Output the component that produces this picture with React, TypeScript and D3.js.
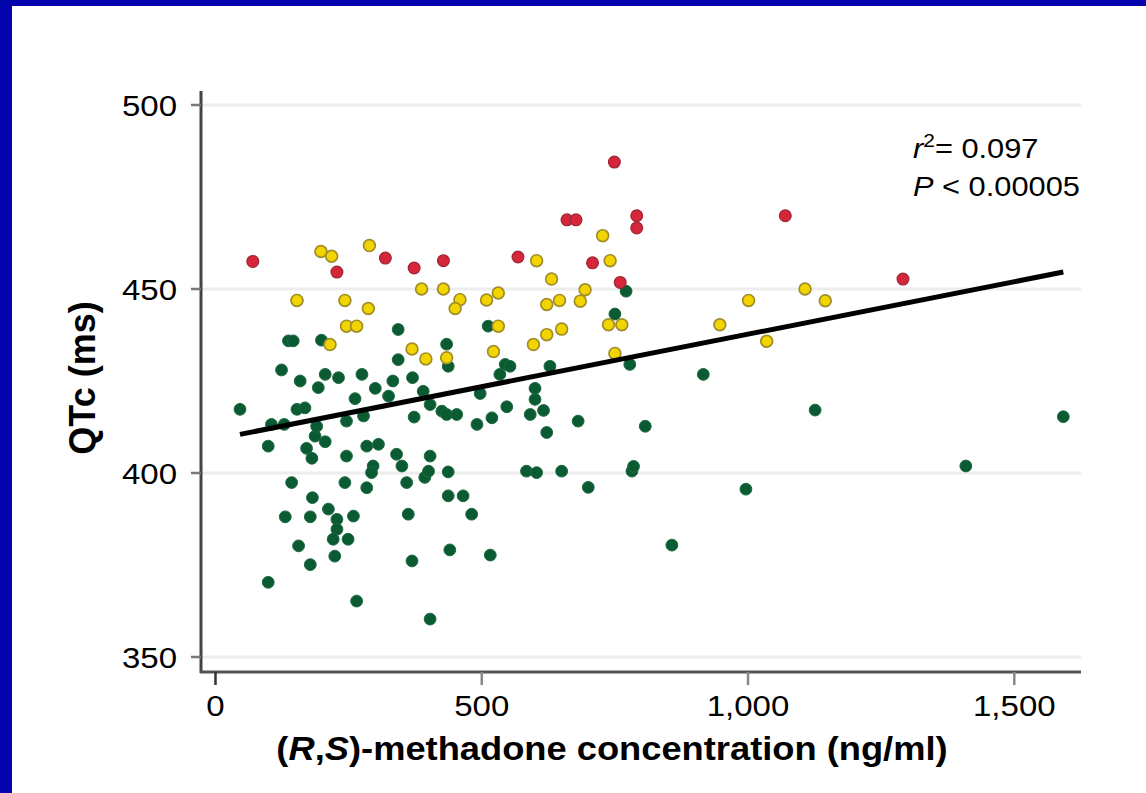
import React from "react";
import * as d3 from "d3";

// ---- data (ng/ml, ms) ----
const greenX = [46, 99, 99, 105, 129, 124, 131, 137, 146, 143, 153, 156, 159, 153, 168, 171, 181, 178, 178, 182, 187, 190, 193, 199, 206, 206, 212, 228, 228, 221, 249, 259, 224, 231, 246, 246, 243, 262, 265, 275, 278, 284, 284, 296, 293, 300, 306, 325, 333, 340, 350, 343, 343, 359, 362, 369, 370, 373, 390, 393, 400, 403, 403, 403, 425, 434, 453, 434, 437, 437, 437, 465, 440, 481, 491, 497, 512, 516, 519, 534, 544, 553, 547, 584, 603, 591, 616, 600, 600, 622, 628, 650, 681, 750, 771, 778, 807, 916, 1126, 1592, 1409, 700, 782, 785, 857, 996];
const greenY = [417.3, 407.3, 370.3, 413.2, 413.2, 428.0, 388.1, 435.9, 435.9, 397.4, 446.9, 380.2, 425.0, 417.3, 417.7, 406.7, 404.0, 388.1, 375.1, 393.3, 410.0, 412.7, 423.2, 436.1, 426.8, 408.5, 390.2, 387.4, 384.7, 382.0, 382.0, 388.3, 377.4, 425.9, 414.1, 404.6, 397.4, 420.2, 365.2, 426.8, 415.5, 407.3, 396.0, 401.9, 400.1, 423.0, 407.8, 420.9, 425.0, 405.1, 401.9, 439.0, 430.8, 397.4, 388.8, 376.1, 425.9, 415.2, 422.2, 398.8, 400.5, 404.6, 418.6, 360.3, 416.8, 415.9, 415.9, 435.0, 429.0, 400.3, 393.8, 393.8, 379.1, 388.8, 413.2, 421.6, 439.9, 377.7, 415.0, 426.8, 429.5, 429.0, 418.0, 400.5, 400.1, 415.9, 417.0, 423.0, 420.0, 411.0, 429.0, 400.5, 414.1, 443.2, 449.4, 429.5, 412.7, 426.8, 417.1, 415.3, 401.9, 396.1, 400.5, 401.8, 380.4, 395.6];

const yellowX = [198, 218, 289, 153, 243, 287, 387, 428, 459, 450, 509, 531, 246, 265, 215, 369, 395, 434, 522, 531, 597, 622, 650, 622, 646, 631, 603, 727, 741, 694, 685, 738, 763, 750, 947, 1001, 1035, 1107, 1145];
const yellowY = [460.2, 458.9, 461.8, 446.9, 446.9, 444.7, 450.0, 450.0, 447.1, 444.7, 447.0, 448.9, 439.9, 439.9, 434.9, 433.7, 431.0, 431.3, 433.0, 439.9, 434.9, 437.6, 439.1, 445.8, 446.9, 452.7, 457.7, 464.5, 457.7, 449.8, 446.7, 440.3, 440.3, 432.5, 440.3, 446.9, 435.8, 450.0, 446.8];

const redX = [70, 228, 319, 373, 428, 568, 708, 749, 660, 677, 791, 791, 760, 1070, 1291];
const redY = [457.5, 454.6, 458.4, 455.7, 457.7, 458.7, 457.1, 484.5, 468.8, 468.8, 469.9, 466.6, 451.8, 469.9, 452.7];

const fitX = [46, 1592];
const fitY = [410.5, 454.6];

const xTicks = [0, 500, 1000, 1500];
const yTicks = [350, 400, 450, 500];

const FONT = "'Liberation Sans', Arial, Helvetica, sans-serif";
const SX = 1.1; // horizontal stretch of the reference lettering

export default function App() {
  const x = d3.scaleLinear().domain([0, 1500]).range([215.5, 1014.3]);
  const y = d3.scaleLinear().domain([350, 500]).range([657, 105]);
  const fmt = d3.format(",");
  const line = d3
    .line<number>()
    .x((_, i) => x(fitX[i]))
    .y((d) => y(d));

  const greens = greenX.map((v, i) => ({ x: v, y: greenY[i] }));
  const yellows = yellowX.map((v, i) => ({ x: v, y: yellowY[i] }));
  const reds = redX.map((v, i) => ({ x: v, y: redY[i] }));

  const axisLeft = 201;
  const axisBottom = 672;
  const plotRight = 1081;

  return (
    <svg
      width={1146}
      height={793}
      style={{ position: "absolute", left: 0, top: 0, background: "#fff" }}
      fontFamily={FONT}
    >
      <rect x={0} y={0} width={1146} height={793} fill="#fff" />
      <rect x={0} y={0} width={1146} height={6} fill="#0404ac" />
      <rect x={0} y={0} width={12} height={793} fill="#0404ac" />

      {/* gridlines */}
      {yTicks.map((t) => (
        <line key={"g" + t} x1={axisLeft} x2={plotRight} y1={y(t)} y2={y(t)} stroke="#ededed" strokeWidth={3} />
      ))}

      {/* axes */}
      <line x1={axisLeft} x2={axisLeft} y1={91} y2={axisBottom + 1} stroke="#444" strokeWidth={3} />
      <line x1={axisLeft - 1} x2={plotRight} y1={axisBottom} y2={axisBottom} stroke="#555" strokeWidth={3} />
      {yTicks.map((t) => (
        <g key={"yt" + t}>
          <line x1={axisLeft - 10} x2={axisLeft} y1={y(t)} y2={y(t)} stroke="#777" strokeWidth={2.5} />
          <text
            transform={`translate(177, ${y(t)}) scale(${SX}, 1)`}
            dy="0.36em"
            textAnchor="end"
            fontSize={30}
            fill="#000"
          >
            {t}
          </text>
        </g>
      ))}
      {xTicks.map((t) => (
        <g key={"xt" + t}>
          <line x1={x(t)} x2={x(t)} y1={axisBottom} y2={axisBottom + 13} stroke={t === 0 ? "#333" : "#888"} strokeWidth={2.5} />
          <text
            transform={`translate(${x(t)}, 716) scale(${SX}, 1)`}
            textAnchor="middle"
            fontSize={30}
            fill="#000"
          >
            {fmt(t)}
          </text>
        </g>
      ))}

      {/* points */}
      {greens.map((d, i) => (
        <circle key={"gr" + i} cx={x(d.x)} cy={y(d.y)} r={5.9} fill="#0a5a32" stroke="#1e6a44" strokeWidth={1} />
      ))}
      {yellows.map((d, i) => (
        <circle key={"ye" + i} cx={x(d.x)} cy={y(d.y)} r={5.9} fill="#f2d400" stroke="#a08c2a" strokeWidth={1.7} />
      ))}
      {reds.map((d, i) => (
        <circle key={"re" + i} cx={x(d.x)} cy={y(d.y)} r={5.9} fill="#d6263a" stroke="#9a2636" strokeWidth={1.2} />
      ))}

      {/* regression line */}
      <path d={line(fitY) || ""} fill="none" stroke="#000" strokeWidth={5} />

      {/* annotation */}
      <text transform={`translate(913, 158) scale(${SX}, 1)`} fontSize={28} fill="#000">
        <tspan fontStyle="italic">r</tspan>
        <tspan dy={-11} fontSize={19}>2</tspan>
        <tspan dy={11}>= 0.097</tspan>
      </text>
      <text transform={`translate(913, 196) scale(${SX}, 1)`} fontSize={28} fill="#000">
        <tspan fontStyle="italic">P</tspan>
        <tspan> &lt; 0.00005</tspan>
      </text>

      {/* axis titles */}
      <text
        transform={`translate(95, 378) rotate(-90)`}
        textAnchor="middle"
        fontSize={36}
        fontWeight="bold"
        fill="#000"
      >
        QTc (ms)
      </text>
      <text
        transform={`translate(612, 760) scale(${SX}, 1)`}
        textAnchor="middle"
        fontSize={33}
        fontWeight="bold"
        fill="#000"
      >
        (<tspan fontStyle="italic">R</tspan>,<tspan fontStyle="italic">S</tspan>)-methadone concentration (ng/ml)
      </text>
    </svg>
  );
}
